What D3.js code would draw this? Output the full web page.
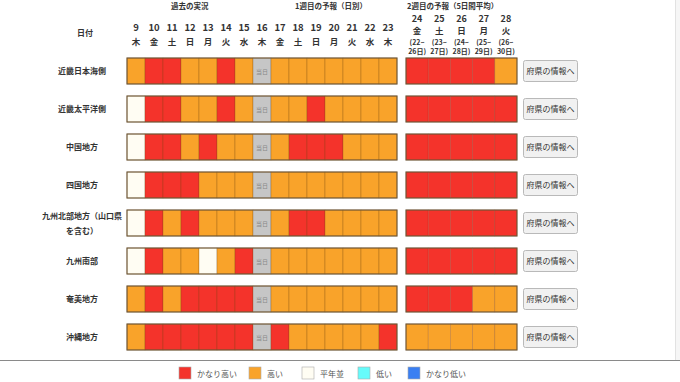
<!DOCTYPE html>
<html><head><meta charset="utf-8">
<script src="https://cdn.jsdelivr.net/npm/d3@7/dist/d3.min.js"></script>
<style>
html,body{margin:0;padding:0;background:#fff;}
svg{display:block;font-family:"Noto Sans CJK JP","Noto Sans",sans-serif;}
</style></head><body>
<svg id="c" width="680" height="382"></svg>
<script>
// ---- data ----
const regions = ["近畿日本海側","近畿太平洋側","中国地方","四国地方","九州北部地方（山口県\nを含む）","九州南部","奄美地方","沖縄地方"];
const dates1 = ["9","10","11","12","13","14","15","16","17","18","19","20","21","22","23"];
const days1  = ["木","金","土","日","月","火","水","木","金","土","日","月","火","水","木"];
const todayDate = "16";
const dates2 = ["24","25","26","27","28"];
const days2  = ["金","土","日","月","火"];
const ranges2a = ["(22~","(23~","(24~","(25~","(26~"];
const ranges2b = ["26日)","27日)","28日)","29日)","30日)"];
const levels = ["かなり高い","高い","平年並","低い","かなり低い"];
const levelColors = ["#f4332b","#f9a32a","#fffdf3","#66fbfb","#3a7ff2"];
// H = かなり高い, M = 高い, N = 平年並, "-" = 当日
const week1 = [
  ["M","H","H","M","M","H","M","-","M","M","M","M","M","M","M"],
  ["N","H","H","M","M","H","M","-","M","M","H","M","M","M","M"],
  ["N","H","H","M","H","M","M","-","M","H","H","H","M","M","M"],
  ["N","H","H","H","M","M","M","-","M","M","M","M","M","M","M"],
  ["N","H","M","H","M","M","M","-","M","H","H","M","M","M","M"],
  ["N","H","M","M","N","M","H","-","M","M","M","M","M","M","M"],
  ["M","H","M","H","H","H","H","-","M","M","M","M","M","M","M"],
  ["M","H","H","H","H","H","H","-","H","M","M","M","M","M","H"]
];
const week2 = [
  ["H","H","H","H","M"],
  ["H","H","H","H","H"],
  ["H","H","H","H","H"],
  ["H","H","H","H","H"],
  ["H","H","H","H","H"],
  ["H","H","H","H","H"],
  ["H","H","H","M","M"],
  ["M","M","M","M","M"]
];
const codeToLevel = {H:"かなり高い", M:"高い", N:"平年並"};
const buttonLabel = "府県の情報へ";
const titles = {past:"過去の実況", w1:"1週目の予報（日別）", w2:"2週目の予報（5日間平均）", date:"日付", today:"当日"};

// ---- drawing ----
const svg = d3.select("#c");
const color = d3.scaleOrdinal().domain(levels).range(levelColors);
const x1 = d3.scaleBand().domain(dates1).range([127, 397]);
const x2 = d3.scaleBand().domain(dates2).range([406, 517]);
const y = d3.scaleBand().domain(regions).range([58, 350]).paddingInner(12/38).paddingOuter(0);
const bh = y.bandwidth();

// right margin strip
svg.append("rect").attr("x",675).attr("y",0).attr("width",5).attr("height",360).attr("fill","#f6f6f6");
svg.append("line").attr("x1",675.5).attr("x2",675.5).attr("y1",0).attr("y2",360).attr("stroke","#e2e2e2");

const hdr = svg.append("g").attr("fill","#333").attr("font-weight","bold");
hdr.append("text").attr("x",171).attr("y",9).attr("font-size",7.5).text(titles.past);
hdr.append("text").attr("x",295).attr("y",9).attr("font-size",7.5).text(titles.w1);
hdr.append("text").attr("x",407).attr("y",9).attr("font-size",7.5).text(titles.w2);
hdr.append("text").attr("x",85).attr("y",36).attr("text-anchor","middle").attr("font-size",8).text(titles.date);

hdr.selectAll("text.d1").data(dates1).join("text").attr("class","d1")
  .attr("x",d=>x1(d)+x1.bandwidth()/2).attr("y",31).attr("text-anchor","middle").attr("font-size",9.5).text(d=>d);
hdr.selectAll("text.w1").data(days1).join("text").attr("class","w1")
  .attr("x",(d,i)=>x1(dates1[i])+x1.bandwidth()/2).attr("y",45).attr("text-anchor","middle").attr("font-size",8.5).text(d=>d);
hdr.selectAll("text.d2").data(dates2).join("text").attr("class","d2")
  .attr("x",d=>x2(d)+x2.bandwidth()/2).attr("y",22).attr("text-anchor","middle").attr("font-size",9).text(d=>d);
hdr.selectAll("text.w2").data(days2).join("text").attr("class","w2")
  .attr("x",(d,i)=>x2(dates2[i])+x2.bandwidth()/2).attr("y",34).attr("text-anchor","middle").attr("font-size",8.5).text(d=>d);
hdr.selectAll("text.r2a").data(ranges2a).join("text").attr("class","r2a")
  .attr("x",(d,i)=>x2(dates2[i])+x2.bandwidth()/2).attr("y",45).attr("text-anchor","middle").attr("font-size",7).text(d=>d);
hdr.selectAll("text.r2b").data(ranges2b).join("text").attr("class","r2b")
  .attr("x",(d,i)=>x2(dates2[i])+x2.bandwidth()/2).attr("y",54).attr("text-anchor","middle").attr("font-size",7).text(d=>d);

const rows = svg.selectAll("g.row").data(regions).join("g").attr("class","row")
  .attr("transform",d=>`translate(0,${y(d)})`);

// row labels
rows.each(function(d){
  const lines = d.split("\n");
  const g = d3.select(this);
  const cy = bh/2;
  lines.forEach((l,i)=>{
    g.append("text").attr("x",82).attr("y",cy + 3 + (i-(lines.length-1)/2)*15)
      .attr("text-anchor","middle").attr("font-size",8).attr("font-weight","bold").attr("fill","#333").text(l);
  });
});

// cells
rows.each(function(d,ri){
  const g = d3.select(this);
  g.selectAll("rect.c1").data(week1[ri]).join("rect").attr("class","c1")
    .attr("x",(v,i)=>x1(dates1[i])).attr("y",0).attr("width",x1.bandwidth()).attr("height",bh)
    .attr("fill",v=>v==="-"?"#c6c6c6":color(codeToLevel[v]))
    .attr("stroke","rgba(110,70,20,0.45)").attr("stroke-width",0.6);
  g.append("text").attr("x",x1(todayDate)+x1.bandwidth()/2).attr("y",bh/2+2.5)
    .attr("text-anchor","middle").attr("font-size",6).attr("fill","#888").text(titles.today);
  g.append("rect").attr("x",x1.range()[0]).attr("y",0).attr("width",x1.range()[1]-x1.range()[0]).attr("height",bh)
    .attr("fill","none").attr("stroke","#6e5838").attr("stroke-width",1.1);

  g.selectAll("rect.c2").data(week2[ri]).join("rect").attr("class","c2")
    .attr("x",(v,i)=>x2(dates2[i])).attr("y",0).attr("width",x2.bandwidth()).attr("height",bh)
    .attr("fill",v=>color(codeToLevel[v]))
    .attr("stroke","rgba(110,50,20,0.35)").attr("stroke-width",0.6);
  g.append("rect").attr("x",x2.range()[0]).attr("y",0).attr("width",x2.range()[1]-x2.range()[0]).attr("height",bh)
    .attr("fill","none").attr("stroke","#6e5838").attr("stroke-width",1.1);

  // button
  g.append("rect").attr("x",523.5).attr("y",bh/2-10.5).attr("width",54).attr("height",21).attr("rx",2)
    .attr("fill","#f1f1f1").attr("stroke","#b9b9b9");
  g.append("text").attr("x",550.5).attr("y",bh/2+3).attr("text-anchor","middle")
    .attr("font-size",8).attr("fill","#333").text(buttonLabel);
});

// legend
svg.append("line").attr("x1",0).attr("x2",680).attr("y1",360.5).attr("y2",360.5).attr("stroke","#8a8a8a").attr("stroke-width",1);
const legX = [179, 249, 302, 358, 408];
const lg = svg.selectAll("g.leg").data(levels).join("g").attr("class","leg")
  .attr("transform",(d,i)=>`translate(${legX[i]},367)`);
lg.append("rect").attr("width",12).attr("height",12).attr("fill",d=>color(d)).attr("stroke","#aaa").attr("stroke-width",0.6);
lg.append("text").attr("x",18).attr("y",9.5).attr("font-size",8).attr("fill","#555").text(d=>d);
</script>
</body></html>
